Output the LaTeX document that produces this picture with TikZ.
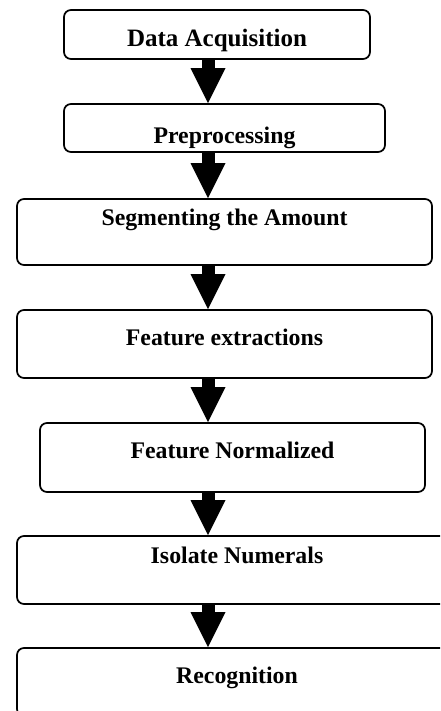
\documentclass[tikz,border=0pt]{standalone}
\usepackage{fontspec}
\setmainfont{Liberation Serif}
\usetikzlibrary{arrows.meta}

\begin{document}
\begin{tikzpicture}[x=1pt, y=-1pt,
    stage/.style={draw, rounded corners=7pt, line width=1.7pt, inner sep=0pt,
        font=\bfseries\fontsize{23.8}{28}\selectfont, text height=16pt},
    flow/.style={line width=13pt, -{Triangle[width=35pt, length=35pt, line width=0pt]}}]
    \useasboundingbox (0,0) rectangle (440,711);
    \clip (0,0) rectangle (440,711);

    % Processing stages
    \node[stage, minimum width=306, minimum height=49, text height=24.6pt, text depth=0pt,
        font=\bfseries\fontsize{25}{30}\selectfont] (acq) at (217,34.5) {Data Acquisition};
    \node[stage, minimum width=321, minimum height=48, text height=31.6pt, text depth=0pt] (pre) at (224.5,128) {Preprocessing};
    \node[stage, minimum width=415, minimum height=66, text depth=28.4pt] (seg) at (224.5,232) {Segmenting the Amount};
    \node[stage, minimum width=415, minimum height=68, text depth=12.4pt] (ext) at (224.5,344) {Feature extractions};
    \node[stage, minimum width=385, minimum height=69, text depth=13.4pt] (norm) at (232.5,457.5) {Feature Normalized};
    \node[stage, minimum width=440, minimum height=68, text depth=28.4pt] (iso) at (237,570) {Isolate Numerals};
    \node[stage, minimum width=440, minimum height=68, text depth=12.4pt] (rec) at (237,682) {Recognition};

    % Block arrows between stages
    \coordinate (axis) at (208,0);
    \foreach \a/\b in {acq/pre, pre/seg, seg/ext, ext/norm, norm/iso, iso/rec} {
        \draw[flow] (\a.south -| axis) -- (\b.north -| axis);
    }
\end{tikzpicture}
\end{document}
